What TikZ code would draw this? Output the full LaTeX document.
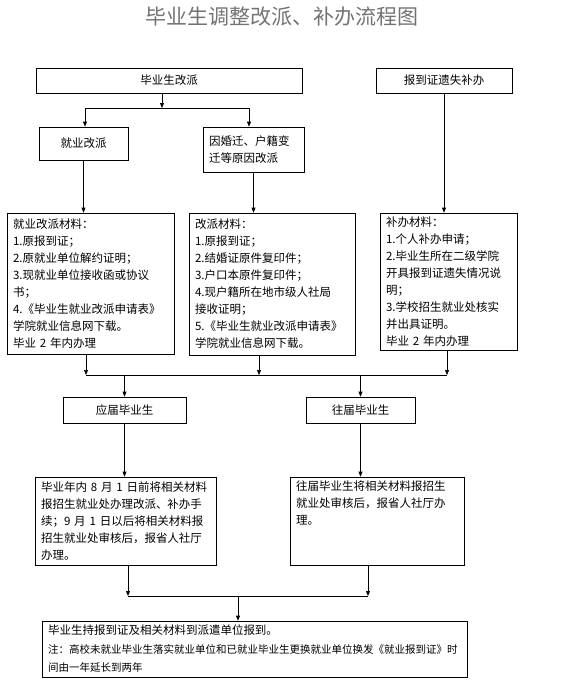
\documentclass[tikz,border=0pt]{standalone}
\usepackage{fontspec}
\setmainfont{Noto Sans CJK SC}
\usetikzlibrary{arrows.meta}

\begin{document}
\begin{tikzpicture}[x=1pt, y=-1pt, line width=0.7pt,
        >={Triangle[length=5pt,width=4pt]},
        box/.style={draw, inner xsep=6pt, inner ysep=3pt, font=\fontsize{11.5}{17}\selectfont},
        txt/.style={box, align=left}]
        \useasboundingbox (0,0) rectangle (561,685);
        % Title
        \node[font=\fontsize{21}{24}\selectfont, text=black!55] (title) at (282,17) {毕业生调整改派、补办流程图};

        % Nodes
        \node[box, minimum width=266pt, minimum height=25pt] (gp) at (169,80.5) {毕业生改派};
        \node[box, minimum width=136pt, minimum height=25pt] (bz) at (444,80.5) {报到证遗失补办};
        \node[box, minimum width=89pt, minimum height=33pt] (jy) at (83.5,143.5) {就业改派};
        \node[txt, text width=89pt, minimum height=45pt] (hq) at (253.5,149.5) {因婚迁、户籍变\\迁等原因改派};

        \node[txt, text width=155pt, minimum height=141pt] (m1) at (90.5,283.5) {就业改派材料：\\1.原报到证；\\2.原就业单位解约证明；\\3.现就业单位接收函或协议\\书；\\4.《毕业生就业改派申请表》\\学院就业信息网下载。\\毕业 2 年内办理};
        \node[txt, text width=154pt, minimum height=142pt] (m2) at (272,284) {改派材料：\\1.原报到证；\\2.结婚证原件复印件；\\3.户口本原件复印件；\\4.现户籍所在地市级人社局\\接收证明；\\5.《毕业生就业改派申请表》\\学院就业信息网下载。};
        \node[txt, text width=125pt, minimum height=137pt] (m3) at (448.5,281.5) {补办材料：\\1.个人补办申请；\\2.毕业生所在二级学院\\开具报到证遗失情况说\\明；\\3.学校招生就业处核实\\并出具证明。\\毕业 2 年内办理};

        \node[box, minimum width=123pt, minimum height=26pt] (yj) at (124.5,410) {应届毕业生};
        \node[box, minimum width=109pt, minimum height=26pt] (wj) at (360.5,410) {往届毕业生};

        \node[txt, text width=169pt, minimum height=88pt] (yd) at (125.5,521) {毕业年内 8 月 1 日前将相关材料\\报招生就业处办理改派、补办手\\续；9 月 1 日以后将相关材料报\\招生就业处审核后，报省人社厅\\办理。};
        \node[txt, text width=162pt, minimum height=88pt] (wd) at (377,521) {\parbox[t][80pt][t]{162pt}{往届毕业生将相关材料报招生\\就业处审核后，报省人社厅办\\理。}};

        \node[txt, text width=413pt, minimum height=56pt, font=\fontsize{11.5}{18.5}\selectfont] (fin) at (254.5,649) {毕业生持报到证及相关材料到派遣单位报到。\\{\fontsize{10.5}{18.5}\selectfont 注：高校未就业毕业生落实就业单位和已就业毕业生更换就业单位换发《就业报到证》时}\\{\fontsize{10.5}{18.5}\selectfont 间由一年延长到两年}};

        % Branch points
        \coordinate (s1) at (162,108);
        \coordinate (b1l) at (85,108);
        \coordinate (b1r) at (249,108);
        \coordinate (b2l) at (86,375);
        \coordinate (b2m) at (259,375);
        \coordinate (b2r) at (447,375);
        \coordinate (b3l) at (128,596);
        \coordinate (b3m) at (238,596);
        \coordinate (b3r) at (368,596);

        % Arrows
        \draw[->] (gp.south -| s1) -- (s1);
        \draw (b1l) -- (b1r);
        \draw[->] (b1l) -- (b1l |- jy.north);
        \draw[->] (b1r) -- (b1r |- hq.north);

        \draw[->] (jy.south) -- (jy.south |- m1.north);
        \draw[->] (hq.south) -- (hq.south |- m2.north);
        \draw[->] (bz.south) -- (bz.south |- m3.north);

        \draw (b2l) -- (b2r);
        \draw[->] (m1.south -| b2l) -- (b2l);
        \draw[->] (m2.south -| b2m) -- (b2m);
        \draw[->] (m3.south -| b2r) -- (b2r);
        \draw[->] (yj.north |- b2l) -- (yj.north);
        \draw[->] (wj.north |- b2l) -- (wj.north);

        \draw[->] (yj.south) -- (yj.south |- yd.north);
        \draw[->] (wj.south) -- (wj.south |- wd.north);

        \draw (b3l) -- (b3r);
        \draw[->] (yd.south -| b3l) -- (b3l);
        \draw[->] (wd.south -| b3r) -- (b3r);
        \draw[->] (b3m) -- (b3m |- fin.north);
\end{tikzpicture}
\end{document}
